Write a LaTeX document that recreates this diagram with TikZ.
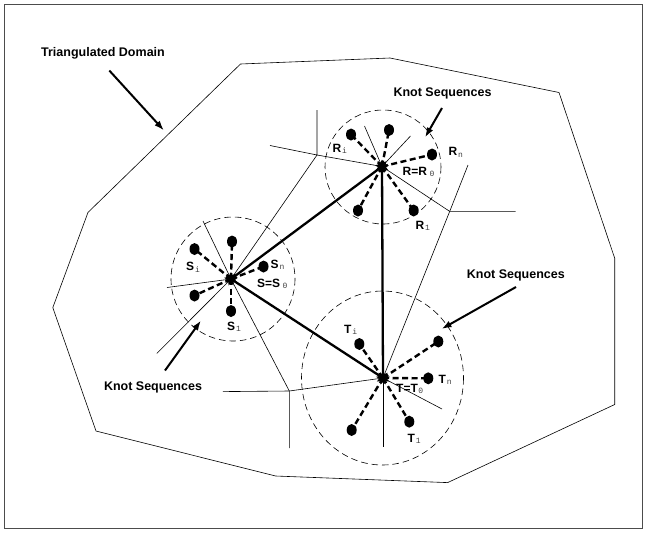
\documentclass[tikz,border=0pt]{standalone}
\usepackage{fontspec}
\setmainfont{Liberation Sans}
\newfontfamily\submono{Liberation Mono}
\usetikzlibrary{arrows.meta,shapes.geometric}
\newcommand{\klab}[3][0.8pt]{\textbf{#2}\kern#1\raisebox{-1.3pt}{\submono\fontsize{8}{8}\selectfont\color{black!75}#3}}
\tikzset{
  thinln/.style={line width=0.6pt},
  edgeln/.style={line width=2.3pt},
  knotln/.style={line width=2.4pt, dash pattern=on 6pt off 3.5pt},
  dcirc/.style={line width=0.6pt, dash pattern=on 6.5pt off 4pt},
  knot/.style={ellipse, fill=black, minimum width=10pt, minimum height=12pt, inner sep=0pt},
  ctr/.style={star, star points=9, star point ratio=1.7, fill=black, minimum size=14pt, inner sep=0pt},
  title/.style={font=\fontsize{12.5}{14}\selectfont\bfseries, inner sep=0pt, anchor=base},
  lbl/.style={font=\fontsize{12}{13}\selectfont, inner sep=0pt, anchor=base west},
  pointer/.style={line width=2pt, -{Latex[length=10pt,width=7pt]}}
}
\begin{document}
\begin{tikzpicture}[x=1pt,y=-1pt]
\useasboundingbox (0,0) rectangle (647,533);
\draw[line width=0.8pt, black!70] (4.5,4.5) rectangle (642.5,528.5);

% domain
\draw[thinln] (240.5,64) -- (390,58) -- (559,92.5) -- (614.7,258.3) -- (614.7,404.5)
  -- (447.6,482.6) -- (275.6,476) -- (96,431) -- (52.8,307.6) -- (88,212.4) -- cycle;

% centers (coordinates)
\coordinate (R) at (382,166.5);
\coordinate (S) at (231,279);
\coordinate (T) at (383,378);

% junctions and free ends of thin lines
\coordinate (J1) at (317,155);
\coordinate (J2) at (289.3,391);
\coordinate (J3) at (449.7,211.4);
\coordinate (e1) at (317,110);
\coordinate (e2) at (270,145.5);
\coordinate (e3) at (156.8,353.5);
\coordinate (e4) at (203,221);
\coordinate (e5) at (222.8,391.6);
\coordinate (e6) at (289.3,448);
\coordinate (e7) at (167,287.5);
\coordinate (e8) at (364.5,126);
\coordinate (e9) at (410.5,136);
\coordinate (e10) at (515.7,211.4);
\coordinate (e11) at (468,165);
\coordinate (e12) at (442,409);
\coordinate (e13) at (383,447);

\draw[thinln] (e1) -- (J1) -- (e2);
\draw[thinln] (J1) -- (R);
\draw[thinln] (J1) -- (S) -- (e3);
\draw[thinln] (e4) -- (S) -- (J2);
\draw[thinln] (e5) -- (J2) -- (e6);
\draw[thinln] (J2) -- (T);
\draw[thinln] (S) -- (e7);
\draw[thinln] (e8) -- (R) -- (e9);
\draw[thinln] (R) -- (J3) -- (e10);
\draw[thinln] (e11) -- (J3) -- (T);
\draw[thinln] (T) -- (e12);
\draw[thinln] (T) -- (e13);

% dashed circles
\draw[dcirc] (383,167) ellipse [x radius=58, y radius=57];
\draw[dcirc] (233,279) circle [radius=62];
\draw[dcirc] (382.5,378) ellipse [x radius=81, y radius=87];

% knots
\node[knot] (Ri) at (351,134.5) {};
\node[knot] (Rt) at (389,130) {};
\node[knot] (Rn) at (432,154.5) {};
\node[knot] (Rl) at (358,210.5) {};
\node[knot] (R1) at (413.7,210.5) {};
\node[knot] (Si) at (194.5,249) {};
\node[knot] (St) at (232,241.5) {};
\node[knot] (Sn) at (263.5,266.5) {};
\node[knot] (Sl) at (194.5,295.5) {};
\node[knot] (S1) at (231,311) {};
\node[knot] (Ti) at (359.3,344) {};
\node[knot] (Tu) at (438.3,341.5) {};
\node[knot] (Tn) at (428.3,378.3) {};
\node[knot] (Tl) at (351.7,430) {};
\node[knot] (T1) at (409.3,421.7) {};

\foreach \k in {Ri,Rt,Rn,Rl,R1} \draw[knotln] (R) -- (\k.center);
\foreach \k in {Si,St,Sn,Sl,S1} \draw[knotln] (S) -- (\k.center);
\foreach \k in {Ti,Tu,Tn,Tl,T1} \draw[knotln] (T) -- (\k.center);

% triangle edges
\draw[edgeln] (R) -- (S) -- (T) -- cycle;

% center blobs
\node[ctr] (cR) at (R) {};
\node[ctr] (cS) at (S) {};
\node[ctr] (cT) at (T) {};

% labels
\node[lbl] (lRi) at (332.5,152) {\klab{R}{i}};
\node[lbl] (lRn) at (448.5,155.7) {\klab{R}{n}};
\node[lbl] (lR0) at (402.5,175) {\klab[2.5pt]{R=R}{0}};
\node[lbl] (lR1) at (415.5,229) {\klab{R}{1}};
\node[lbl] (lSi) at (186,270.7) {\klab{S}{i}};
\node[lbl] (lSn) at (270.5,268) {\klab{S}{n}};
\node[lbl] (lS0) at (257,287) {\klab[2.5pt]{S=S}{0}};
\node[lbl] (lS1) at (227,330) {\klab{S}{1}};
\node[lbl] (lTi) at (344,333.5) {\klab{T}{i}};
\node[lbl] (lTn) at (438.5,383.3) {\klab{T}{n}};
\node[lbl] (lT0) at (396,392.5) {\klab[0.5pt]{T=T}{0}};
\node[lbl] (lT1) at (407.5,442.3) {\klab{T}{1}};

% titles and pointers
\node[title] (td) at (103,56) {Triangulated Domain};
\node[title] (ks1) at (442.5,96.8) {Knot Sequences};
\node[title] (ks2) at (515.8,278.3) {Knot Sequences};
\node[title] (ks3) at (153,390) {Knot Sequences};

\coordinate (a1s) at (109.3,70.5);
\coordinate (a1e) at (164,130.5);
\coordinate (a2s) at (442,108);
\coordinate (a2e) at (425,137.5);
\coordinate (a3s) at (516,287);
\coordinate (a3e) at (441.5,329);
\coordinate (a4s) at (165,370.5);
\coordinate (a4e) at (201,320.5);
\draw[pointer] (a1s) -- (a1e);
\draw[pointer] (a2s) -- (a2e);
\draw[pointer] (a3s) -- (a3e);
\draw[pointer] (a4s) -- (a4e);
\end{tikzpicture}
\end{document}
